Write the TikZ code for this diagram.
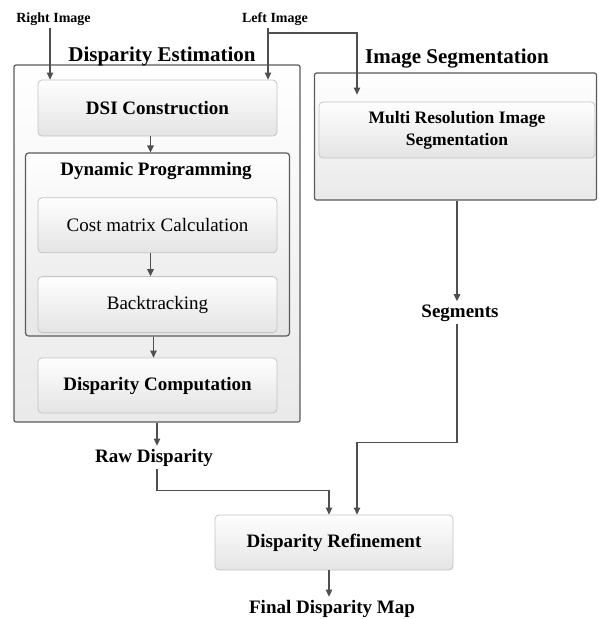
\documentclass[tikz,border=0pt]{standalone}
\usepackage{fontspec}
\setmainfont{Liberation Serif}
\usetikzlibrary{arrows.meta, positioning}
\definecolor{EdgeDark}{HTML}{5A5A5A}
\definecolor{EdgeLight}{HTML}{C4C4C4}
\definecolor{ShadeLow}{HTML}{E4E4E4}
\definecolor{ArrowGray}{HTML}{4F4F4F}
\tikzset{
  obox/.style={draw=EdgeDark, line width=1.2pt, rounded corners=2pt,
    top color=white, bottom color=ShadeLow!80},
  ibox/.style={draw=EdgeLight, line width=0.8pt, rounded corners=4pt, align=center,
    minimum width=239pt, minimum height=56pt, inner sep=2pt,
    top color=white!97!ShadeLow, bottom color=ShadeLow,
    font=\fontsize{19}{22}\selectfont\bfseries},
  pbox/.style={draw=EdgeDark, line width=1.2pt, rounded corners=3pt,
    minimum width=264pt, minimum height=183pt,
    top color=white!95!ShadeLow, bottom color=ShadeLow!90},
  ttl/.style={anchor=base, inner sep=3pt, font=\fontsize{21}{24}\selectfont\bfseries},
  lbl/.style={anchor=base, inner sep=3pt, font=\fontsize{19}{22}\selectfont\bfseries},
  slbl/.style={anchor=base, inner sep=3pt, font=\fontsize{14}{16}\selectfont\bfseries},
  flow/.style={-{Triangle[length=7pt, width=6.5pt]}, line width=1.2pt, draw=ArrowGray},
  line/.style={line width=1.2pt, draw=ArrowGray},
}

\begin{document}
\begin{tikzpicture}[x=1pt, y=-1pt, node distance=16pt]
    \useasboundingbox (0,0) rectangle (598,619);
    % frames
    \node[obox, minimum width=286pt, minimum height=357pt] (de) at (157,243.5) {};
    \node[obox, minimum width=282pt, minimum height=127pt] (is) at (455.5,136.5) {};
    \node[ttl] (detitle) at (162,61) {Disparity Estimation};
    \node[ttl] (istitle) at (457,63) {Image Segmentation};
    % disparity estimation column
    \node[ibox] (dsi) at (157.5,108) {DSI Construction};
    \node[pbox, below=of dsi] (dp) {};
    \node[lbl] (dptitle) at (156,175) {Dynamic Programming};
    \node[ibox, font=\fontsize{19}{22}\selectfont, minimum height=55pt,
      below=45pt of dp.north] (cost) {Cost matrix Calculation};
    \node[ibox, font=\fontsize{19}{22}\selectfont, below=23pt of cost] (back) {Backtracking};
    \node[ibox, minimum height=55pt, below=21pt of dp] (comp) {Disparity Computation};
    % segmentation
    \node[ibox, minimum width=276pt, font=\fontsize{17.5}{22}\selectfont\bfseries]
      (mr) at (457,130) {Multi Resolution Image\\Segmentation};
    % outputs
    \node[slbl] (right) at (53.5,22) {Right Image};
    \node[slbl] (left) at (275,22) {Left Image};
    \node[lbl] (raw) at (154,462) {Raw Disparity};
    \node[lbl] (seg) at (460,317) {Segments};
    \node[ibox, minimum width=238pt, minimum height=55pt] (ref) at (334,542.5) {Disparity Refinement};
    \node[lbl] (final) at (332,613) {Final Disparity Map};
    \coordinate (lsplit) at (268,33);

    \draw[flow] ([xshift=-3.5pt]right.south) -- ([xshift=-3.5pt]right.south |- dsi.north);
    \draw[flow] ([xshift=-7pt]left.south) -- ([xshift=-7pt]left.south |- dsi.north);
    \draw[flow] (lsplit) -| ([xshift=-100pt, yshift=7pt]mr.north);
    \draw[flow] ([xshift=-7pt]dsi.south) -- ([xshift=-7pt]dsi.south |- dp.north);
    \draw[flow] ([xshift=-7pt]cost.south) -- ([xshift=-7pt]cost.south |- back.north);
    \draw[flow] ([xshift=-4pt]dp.south) -- ([xshift=-4pt]dp.south |- comp.north);
    \draw[flow] (de.south) -- (de.south |- raw.north);
    \draw[flow] (raw.south -| de.south) -- ++(0,21) -| ([xshift=-5pt]ref.north);
    \draw[flow] ([xshift=1.5pt]is.south) -- ([xshift=1.5pt]is.south |- seg.north);
    \draw[flow] ([xshift=1.5pt]is.south |- seg.south) -- ++(0,118) -| ([xshift=23pt]ref.north);
    \draw[flow] ([xshift=-5pt]ref.south) -- ([xshift=-5pt]ref.south |- final.north);
\end{tikzpicture}
\end{document}
